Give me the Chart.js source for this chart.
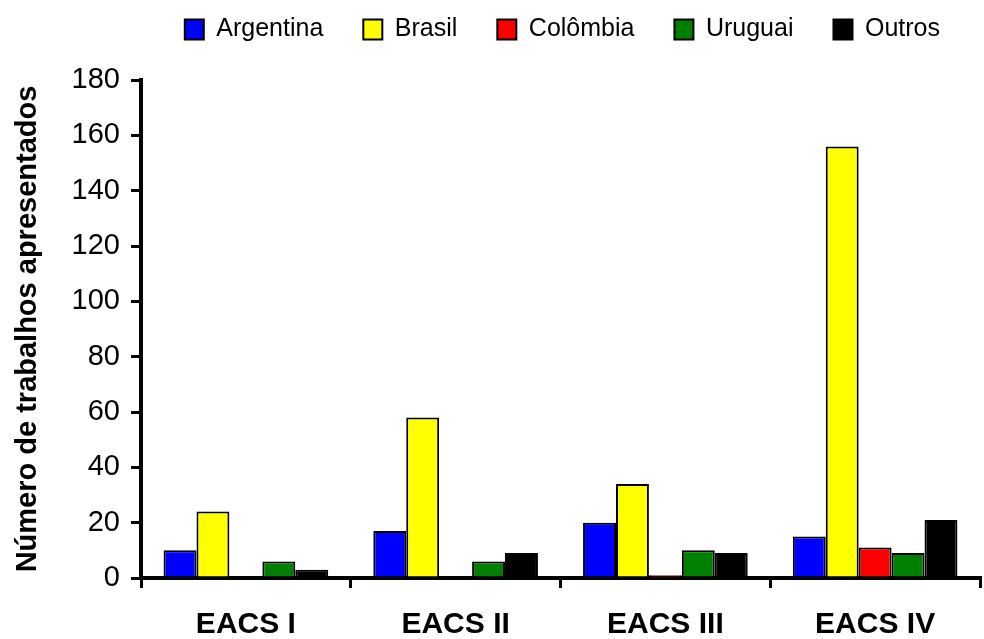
<!DOCTYPE html>
<html>
<head>
<meta charset="utf-8">
<script src="https://cdn.jsdelivr.net/npm/chart.js@4"></script>
<style>
  html, body { margin: 0; padding: 0; background: #fff; }
  #wrap { width: 984px; height: 639px; }
</style>
</head>
<body>
<div id="wrap"><canvas id="grafico" width="984" height="639"></canvas></div>
<script>
const eventos = ["EACS I", "EACS II", "EACS III", "EACS IV"];
const argentina = [10, 17, 20, 15];
const brasil = [24, 58, 34, 156];
const colombia = [0, 0, 1, 11];
const uruguai = [6, 6, 10, 9];
const outros = [3, 9, 9, 21];
const yTicks = [0, 20, 40, 60, 80, 100, 120, 140, 160, 180];

Chart.defaults.font.family = "'Liberation Sans', Arial, sans-serif";
Chart.defaults.color = "black";

const serie = (label, data, cor) => ({
    label: label,
    data: data,
    backgroundColor: cor,
    borderColor: "black",
    borderWidth: 2,
    borderSkipped: "bottom",
    categoryPercentage: 0.785,
    barPercentage: 1.0
});

// espaço extra entre a legenda e o gráfico
const espacoLegenda = {
    id: "espacoLegenda",
    beforeInit(chart) {
        const fitOriginal = chart.legend.fit;
        chart.legend.fit = function () {
            fitOriginal.call(this);
            this.height += 28;
        };
    }
};

const ctx = document.getElementById("grafico").getContext("2d");
const grafico = new Chart(ctx, {
    type: "bar",
    data: {
        labels: eventos,
        datasets: [
            serie("Argentina", argentina, "#0000ff"),
            serie("Brasil", brasil, "#ffff00"),
            serie("Colômbia", colombia, "#ff0000"),
            serie("Uruguai", uruguai, "#008000"),
            serie("Outros", outros, "#000000")
        ]
    },
    plugins: [espacoLegenda],
    options: {
        responsive: false,
        animation: false,
        layout: { padding: { left: 4, right: 4, top: -23, bottom: -23 } },
        plugins: {
            legend: {
                position: "top",
                align: "end",
                labels: {
                    font: { size: 25 },
                    boxWidth: 19,
                    boxHeight: 20,
                    padding: 40
                }
            },
            tooltip: { enabled: false }
        },
        scales: {
            x: {
                grid: {
                    offset: true,
                    drawOnChartArea: false,
                    drawTicks: true,
                    tickLength: 10,
                    color: "black",
                    lineWidth: 3
                },
                border: { display: true, color: "black", width: 4 },
                ticks: {
                    font: { size: 30, weight: "bold" },
                    padding: 19
                }
            },
            y: {
                min: 0,
                max: 180,
                afterBuildTicks: (scale) => {
                    scale.ticks = yTicks.map(v => ({ value: v }));
                },
                afterFit: (scale) => { scale.width = 137; },
                grid: {
                    drawOnChartArea: false,
                    drawTicks: true,
                    tickLength: 10,
                    color: "black",
                    lineWidth: 3
                },
                border: { display: true, color: "black", width: 4 },
                ticks: {
                    font: { size: 29 },
                    padding: 11
                },
                title: {
                    display: true,
                    text: "Número de trabalhos apresentados",
                    font: { size: 29, weight: "bold" },
                    padding: { top: 7, bottom: 4 }
                }
            }
        }
    }
});
</script>
</body>
</html>
